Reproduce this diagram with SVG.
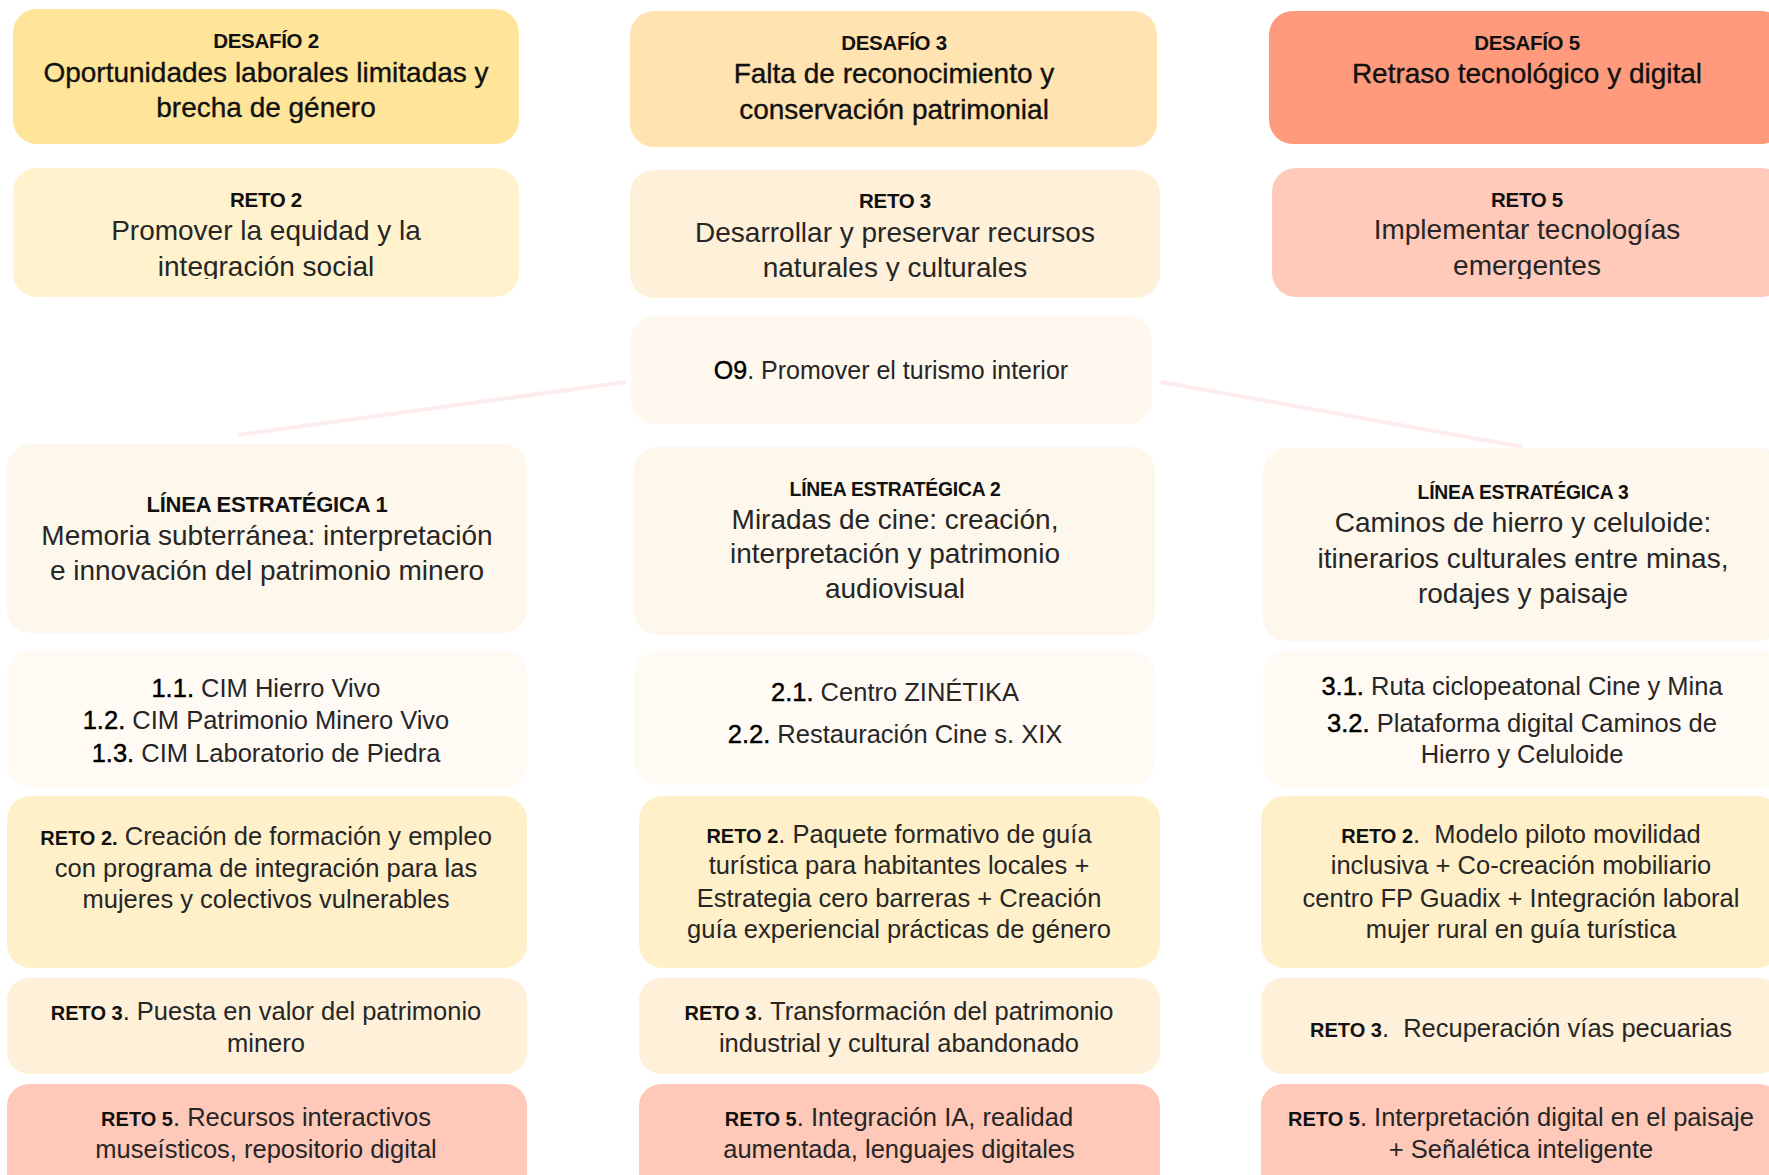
<svg xmlns="http://www.w3.org/2000/svg" width="1769" height="1175" viewBox="0 0 1769 1175">
<defs>
<style>
text{font-family:"Liberation Sans",Arial,sans-serif;text-anchor:middle;fill:#262626}
.h{font-weight:bold;font-size:20.5px;letter-spacing:-0.3px;fill:#111}
.tt{font-size:28px;fill:#111;stroke:#111;stroke-width:0.35}
.b{font-size:28px}
.s{font-size:25.5px}
.o{font-size:25px}
.k{font-weight:bold;font-size:20px;fill:#111;stroke:none}
.n{fill:#000;stroke:#000;stroke-width:0.45}
.le1{font-weight:bold;font-size:22px;letter-spacing:-0.2px;fill:#111}
.le{font-weight:bold;font-size:19.3px;letter-spacing:-0.2px;fill:#111}
.cn{stroke:#fdeceb;stroke-width:4;fill:none}
</style>
<clipPath id="c1"><rect x="0" y="150" width="1769" height="129"/></clipPath>
<clipPath id="c2"><rect x="0" y="150" width="1769" height="131"/></clipPath>
</defs>
<rect width="1769" height="1175" fill="#ffffff"/>

<g id="connectors">
<line class="cn" x1="238" y1="435" x2="626" y2="382"/>
<line class="cn" x1="1161" y1="382" x2="1523" y2="447"/>
</g>

<g id="desafio2">
<rect x="13" y="9" width="506" height="135" rx="24" fill="#ffe599"/>
<text class="h" x="266" y="48">DESAFÍO 2</text>
<text class="tt"><tspan x="266" y="82">Oportunidades laborales limitadas y</tspan><tspan x="266" y="117">brecha de género</tspan></text>
</g>
<g id="reto2">
<rect x="13" y="168" width="506" height="129" rx="24" fill="#fff2cc"/>
<text class="h" x="266" y="207">RETO 2</text>
<text class="b" clip-path="url(#c1)"><tspan x="266" y="240">Promover la equidad y la</tspan><tspan x="266" y="276">integración social</tspan></text>
</g>

<g id="desafio3">
<rect x="630" y="11" width="527" height="136" rx="24" fill="#ffe3b0"/>
<text class="h" x="894" y="50">DESAFÍO 3</text>
<text class="tt"><tspan x="894" y="83">Falta de reconocimiento y</tspan><tspan x="894" y="119">conservación patrimonial</tspan></text>
</g>
<g id="reto3">
<rect x="630" y="170" width="530" height="128" rx="24" fill="#fff0d9"/>
<text class="h" x="895" y="208">RETO 3</text>
<text class="b" clip-path="url(#c2)"><tspan x="895" y="242">Desarrollar y preservar recursos</tspan><tspan x="895" y="277">naturales y culturales</tspan></text>
</g>
<g id="o9">
<rect x="631" y="316" width="521" height="108" rx="24" fill="#fef8ef"/>
<text class="o" x="891" y="379"><tspan class="n">O9</tspan>. Promover el turismo interior</text>
</g>

<g id="desafio5">
<rect x="1269" y="11" width="516" height="133" rx="24" fill="#ff9b7c"/>
<text class="h" x="1527" y="50">DESAFÍO 5</text>
<text class="tt" x="1527" y="83">Retraso tecnológico y digital</text>
</g>
<g id="reto5">
<rect x="1272" y="168" width="513" height="129" rx="24" fill="#ffcaba"/>
<text class="h" x="1527" y="207">RETO 5</text>
<text class="b" clip-path="url(#c1)"><tspan x="1527" y="239">Implementar tecnologías</tspan><tspan x="1527" y="275">emergentes</tspan></text>
</g>

<g id="linea1">
<rect x="7" y="444" width="520" height="189" rx="24" fill="#fef7ec"/>
<text class="le1" x="267" y="512">LÍNEA ESTRATÉGICA 1</text>
<text class="b"><tspan x="267" y="545">Memoria subterránea: interpretación</tspan><tspan x="267" y="580">e innovación del patrimonio minero</tspan></text>
</g>
<g id="acciones1">
<rect x="7" y="650" width="520" height="138" rx="24" fill="#fffbf4"/>
<text class="s"><tspan x="266" y="697"><tspan class="n">1.1.</tspan> CIM Hierro Vivo</tspan><tspan x="266" y="729"><tspan class="n">1.2.</tspan> CIM Patrimonio Minero Vivo</tspan><tspan x="266" y="762"><tspan class="n">1.3.</tspan> CIM Laboratorio de Piedra</tspan></text>
</g>
<g id="l1reto2">
<rect x="7" y="796" width="520" height="172" rx="24" fill="#fff0c9"/>
<text class="s"><tspan x="266" y="845"><tspan class="k">RETO 2.</tspan> Creación de formación y empleo</tspan><tspan x="266" y="877">con programa de integración para las</tspan><tspan x="266" y="908">mujeres y colectivos vulnerables</tspan></text>
</g>
<g id="l1reto3">
<rect x="7" y="978" width="520" height="96" rx="22" fill="#fef0d9"/>
<text class="s"><tspan x="266" y="1020"><tspan class="k">RETO 3</tspan>. Puesta en valor del patrimonio</tspan><tspan x="266" y="1052">minero</tspan></text>
</g>
<g id="l1reto5">
<rect x="7" y="1084" width="520" height="120" rx="22" fill="#ffc9b9"/>
<text class="s"><tspan x="266" y="1126"><tspan class="k">RETO 5</tspan>. Recursos interactivos</tspan><tspan x="266" y="1158">museísticos, repositorio digital</tspan></text>
</g>

<g id="linea2">
<rect x="634" y="447" width="521" height="188" rx="24" fill="#fef7ec"/>
<text class="le" x="895" y="496">LÍNEA ESTRATÉGICA 2</text>
<text class="b"><tspan x="895" y="529">Miradas de cine: creación,</tspan><tspan x="895" y="563">interpretación y patrimonio</tspan><tspan x="895" y="598">audiovisual</tspan></text>
</g>
<g id="acciones2">
<rect x="634" y="650" width="521" height="135" rx="24" fill="#fffbf4"/>
<text class="s"><tspan x="895" y="701"><tspan class="n">2.1.</tspan> Centro ZINÉTIKA</tspan><tspan x="895" y="743"><tspan class="n">2.2.</tspan> Restauración Cine s. XIX</tspan></text>
</g>
<g id="l2reto2">
<rect x="639" y="796" width="521" height="172" rx="24" fill="#fff0c9"/>
<text class="s"><tspan x="899" y="843"><tspan class="k">RETO 2</tspan>. Paquete formativo de guía</tspan><tspan x="899" y="874">turística para habitantes locales +</tspan><tspan x="899" y="907">Estrategia cero barreras + Creación</tspan><tspan x="899" y="938">guía experiencial prácticas de género</tspan></text>
</g>
<g id="l2reto3">
<rect x="639" y="978" width="521" height="96" rx="22" fill="#fef0d9"/>
<text class="s"><tspan x="899" y="1020"><tspan class="k">RETO 3</tspan>. Transformación del patrimonio</tspan><tspan x="899" y="1052">industrial y cultural abandonado</tspan></text>
</g>
<g id="l2reto5">
<rect x="639" y="1084" width="521" height="120" rx="22" fill="#ffc9b9"/>
<text class="s"><tspan x="899" y="1126"><tspan class="k">RETO 5</tspan>. Integración IA, realidad</tspan><tspan x="899" y="1158">aumentada, lenguajes digitales</tspan></text>
</g>

<g id="linea3">
<rect x="1263" y="448" width="520" height="193" rx="24" fill="#fef7ec"/>
<text class="le" x="1523" y="499">LÍNEA ESTRATÉGICA 3</text>
<text class="b"><tspan x="1523" y="532">Caminos de hierro y celuloide:</tspan><tspan x="1523" y="568">itinerarios culturales entre minas,</tspan><tspan x="1523" y="603">rodajes y paisaje</tspan></text>
</g>
<g id="acciones3">
<rect x="1263" y="650" width="520" height="138" rx="24" fill="#fffbf4"/>
<text class="s"><tspan x="1522" y="695"><tspan class="n">3.1.</tspan> Ruta ciclopeatonal Cine y Mina</tspan><tspan x="1522" y="732"><tspan class="n">3.2.</tspan> Plataforma digital Caminos de</tspan><tspan x="1522" y="763">Hierro y Celuloide</tspan></text>
</g>
<g id="l3reto2">
<rect x="1261" y="796" width="520" height="172" rx="24" fill="#fff0c9"/>
<text class="s"><tspan x="1521" y="843"><tspan class="k">RETO 2</tspan>.&#160; Modelo piloto movilidad</tspan><tspan x="1521" y="874">inclusiva + Co-creación mobiliario</tspan><tspan x="1521" y="907">centro FP Guadix + Integración laboral</tspan><tspan x="1521" y="938">mujer rural en guía turística</tspan></text>
</g>
<g id="l3reto3">
<rect x="1261" y="978" width="520" height="96" rx="22" fill="#fef0d9"/>
<text class="s" x="1521" y="1037"><tspan class="k">RETO 3</tspan>.&#160; Recuperación vías pecuarias</text>
</g>
<g id="l3reto5">
<rect x="1261" y="1084" width="520" height="120" rx="22" fill="#ffc9b9"/>
<text class="s"><tspan x="1521" y="1126"><tspan class="k">RETO 5</tspan>. Interpretación digital en el paisaje</tspan><tspan x="1521" y="1158">+ Señalética inteligente</tspan></text>
</g>
</svg>
